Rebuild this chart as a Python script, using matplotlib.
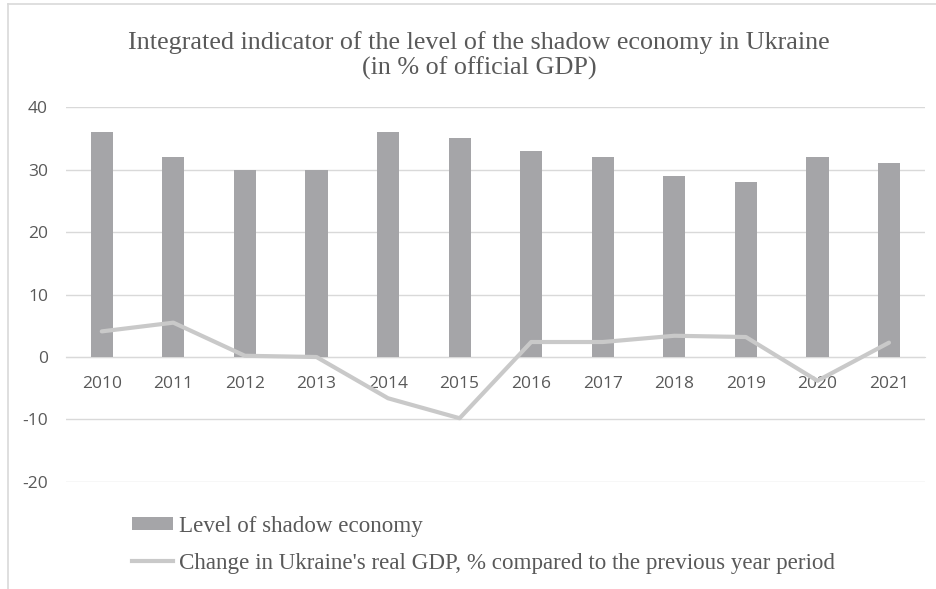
import matplotlib
matplotlib.use("Agg")
import matplotlib.pyplot as plt
from matplotlib.patches import Patch
from matplotlib.lines import Line2D

years = ["2010", "2011", "2012", "2013", "2014", "2015",
         "2016", "2017", "2018", "2019", "2020", "2021"]
shadow_level = [36, 32, 30, 30, 36, 35, 33, 32, 29, 28, 32, 31]
gdp_change = [4.1, 5.5, 0.2, 0.0, -6.6, -9.8, 2.4, 2.4, 3.4, 3.2, -3.8, 2.3]
y_ticks = [-20, -10, 0, 10, 20, 30, 40]

title = ("Integrated indicator of the level of the shadow economy in Ukraine\n"
         "(in % of official GDP)")
bar_label = "Level of shadow economy"
line_label = "Change in Ukraine's real GDP, % compared to the previous year period"

BAR_COLOR = "#a5a5a8"
LINE_COLOR = "#c9c9c9"
GRID_COLOR = "#d9d9d9"
TEXT_COLOR = "#595959"
SERIF = ["Liberation Serif", "DejaVu Serif"]
SANS = ["Open Sans", "DejaVu Sans"]

fig = plt.figure(figsize=(9.36, 5.89), dpi=100)

# chart-area frame: left and top edges
fig.add_artist(Line2D([0.0085, 0.0085], [0.0, 0.993], transform=fig.transFigure,
                      color=GRID_COLOR, linewidth=1.2))
fig.add_artist(Line2D([0.0085, 1.0], [0.993, 0.993], transform=fig.transFigure,
                      color=GRID_COLOR, linewidth=1.2))

ax = fig.add_axes([0.0705, 0.1817, 0.9175, 0.6365])
x = list(range(len(years)))
ax.bar(x, shadow_level, width=0.31, color=BAR_COLOR, zorder=2)
ax.plot(x, gdp_change, color=LINE_COLOR, linewidth=3.0, zorder=3,
        solid_capstyle="round", solid_joinstyle="round")

ax.set_xlim(-0.5, len(years) - 0.5)
ax.set_ylim(-20, 40)
ax.set_yticks(y_ticks)
ax.set_yticklabels([str(v) for v in y_ticks])
ax.set_xticks(x)
ax.set_xticklabels(years)
ax.grid(axis="y", color=GRID_COLOR, linewidth=1.0, zorder=0)
ax.set_axisbelow(True)

for side in ("left", "right", "top"):
    ax.spines[side].set_visible(False)
ax.spines["bottom"].set_position(("data", 0))
ax.spines["bottom"].set_color(GRID_COLOR)
ax.spines["bottom"].set_zorder(1)

ax.tick_params(axis="both", length=0, colors=TEXT_COLOR, labelsize=12.5)
ax.tick_params(axis="y", pad=13)
ax.tick_params(axis="x", pad=13.5)
for lbl in ax.get_xticklabels() + ax.get_yticklabels():
    lbl.set_fontfamily(SANS)

fig.text(0.512, 0.905, title, ha="center", va="center", fontsize=18.8,
         color=TEXT_COLOR, family=SERIF, linespacing=1.15)

handles = [Patch(facecolor=BAR_COLOR, edgecolor="none"),
           Line2D([0], [0], color=LINE_COLOR, linewidth=3.0)]
fig.legend(handles, [bar_label, line_label], loc="upper left",
           bbox_to_anchor=(0.141, 0.1245), bbox_transform=fig.transFigure,
           frameon=False, prop={"family": SERIF, "size": 16.6},
           labelcolor=TEXT_COLOR, handlelength=1.8, handleheight=0.52,
           handletextpad=0.25, labelspacing=0.7, borderaxespad=0, borderpad=0)

fig.savefig("out.png", dpi=100)
